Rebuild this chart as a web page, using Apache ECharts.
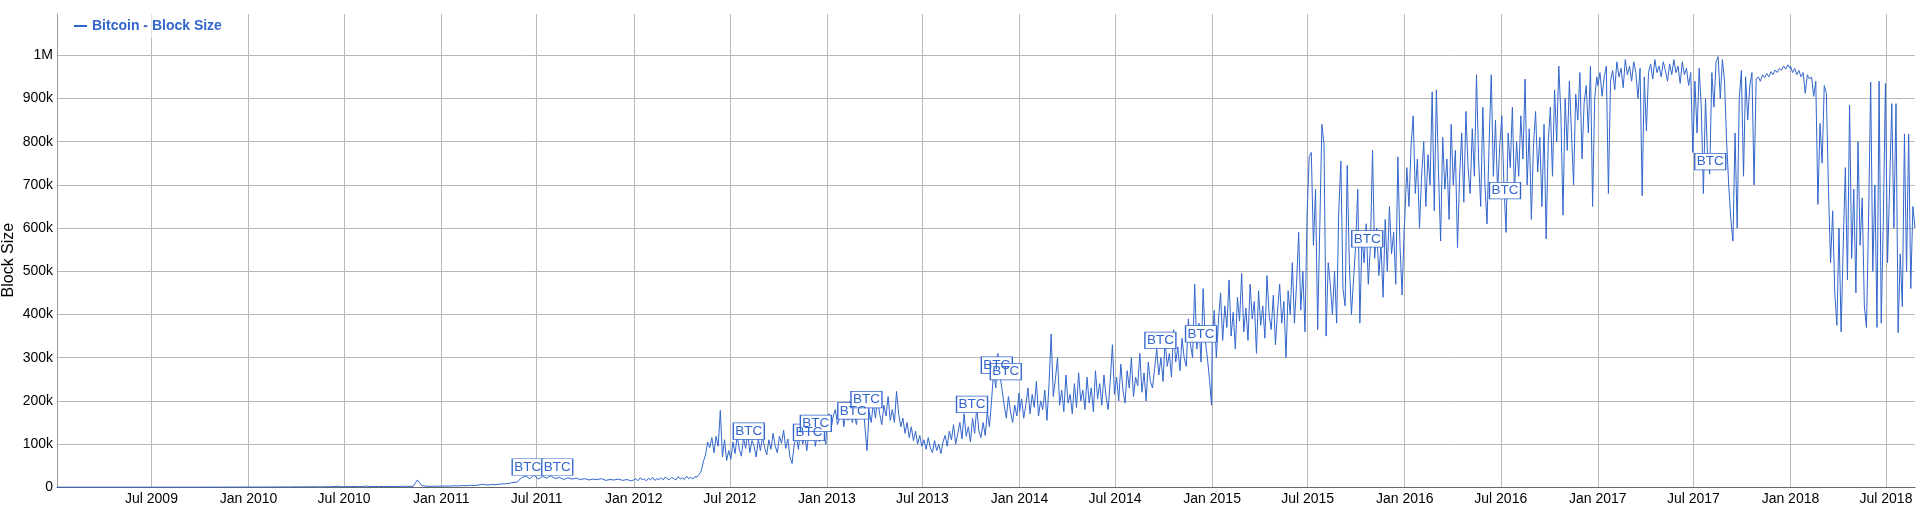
<!DOCTYPE html>
<html><head><meta charset="utf-8">
<script src="https://cdn.jsdelivr.net/npm/echarts@6/dist/echarts.min.js"></script>
<style>html,body{margin:0;padding:0;background:#fff}#c{width:1920px;height:509px}</style>
</head><body><div id="c"></div>
<script>
const seriesName = 'Bitcoin - Block Size';
const xTickLabels = ['Jul 2009','Jan 2010','Jul 2010','Jan 2011','Jul 2011','Jan 2012','Jul 2012','Jan 2013','Jul 2013','Jan 2014','Jul 2014','Jan 2015','Jul 2015','Jan 2016','Jul 2016','Jan 2017','Jul 2017','Jan 2018','Jul 2018'];
const xStart = '2009-01-03';
const xEnd = '2018-08-25';
const yMax = 1095.6; // thousands of bytes
const yStep = 100;

// Block size (thousands of bytes)
const size2009 = [0.3,0.2,0.3,0.2,0.2,0.3,0.2,0.3,0.2,0.2,0.3,0.2,0.2,0.3,0.2,0.3,0.2,0.2,0.3,0.2,0.2,0.3,0.2,0.3,0.3,0.2,0.3,0.2,0.3,0.3,0.2,0.3,0.2,0.3,0.3,0.4,0.3,0.4,0.3,0.5,0.4,0.5,0.4,0.6,0.5,0.6];
const size2010 = [0.5,0.6,0.5,0.7,0.6,0.8,0.6,0.9,0.7,1.0,0.8,1.1,0.9,1.2,1.0,1.3,1.1,1.0,1.4,1.2,1.5,2.5,1.3,1.6,1.4,1.8,1.5,1.7,2.8,1.6,1.9,1.7,2.0,1.8,2.1,1.9,2.2,2.0,2.3,2.1,17.0,4.5,2.4,2.2,2.5,2.3];
const size2011 = [2.5,3,2.8,3.5,3.2,4,3.6,4.5,4.2,5.5,7,5,6.5,6,7.5,8,9,11,12,22,26,20,28,19,25,21,27,20,23,18,22,19,21,18,20,17,19,18,20,16,18,17,19,16,18,15];
const size2012 = [17,20,15,22,18,19,15,21,17,23,16,20,18,22,17,24,19,18,23,20,17,25,19,22,18,26,20,23,19,25,24,30,38,60,75,105,92,115,80,118,95,178,70,110,62,85,65,105,78,120,88,72,115,90,126,80,108,95,70,112,85,118,92,75,110,88,125,96,80,118,102,132,90,112,70,55,98,120,88,135,100,118,85,130,110,140,95,125,105,148,120,100];
const size2013 = [150,170,135,165,180,145,160,190,140,175,155,200,150,170,145,185,165,210,140,85,175,150,195,160,205,170,145,190,165,210,155,180,150,222,170,140,160,125,150,115,140,108,130,100,120,95,110,88,115,92,80,108,85,100,78,105,120,95,130,110,145,100,125,150,112,170,118,140,105,160,125,185,130,115,150,120,175,140,200,270,230,310,260,225,190,160,210,175,150,190,165,218];
const size2014 = [175,205,160,190,230,170,215,185,245,165,200,180,225,155,240,355,210,250,300,190,225,175,260,195,215,170,240,185,265,200,225,180,255,195,230,175,270,205,240,190,260,210,180,245,330,215,255,200,285,225,195,270,230,300,210,255,235,310,220,265,200,290,245,230,275,320,260,300,245,340,280,310,255,365,290,325,270,345,300,280,390,330,300,470,320,380,290,460,340,300,250,190];
const size2015 = [330,410,300,385,450,340,420,370,480,350,405,320,440,385,495,360,415,340,470,390,430,310,455,375,420,345,490,400,365,445,330,410,470,380,430,300,455,400,520,380,470,590,410,500,360,635,765,775,560,690,365,600,840,795,350,520,470,400,500,380,640,755,460,420,745,520,400,480,560,690,380,580,520,610,470,560,780,530,600,490,560,440,620,500,650,540,590,470,765,560,445,600];
const size2016 = [620,740,650,790,860,680,760,600,720,800,650,770,700,915,640,920,730,570,810,690,760,620,840,700,780,555,720,820,660,870,740,680,830,720,955,760,650,880,700,610,800,955,720,850,680,790,860,700,590,820,740,880,680,800,720,860,760,945,700,830,620,790,870,730,810,650,840,575,800,880,720,920,800,975,860,630,900,780,940,820,700,910,850,960,760,890,930,820,975,650,900,950];
const size2017 = [930,960,905,950,975,680,940,965,920,985,950,970,925,990,955,975,940,985,960,900,970,675,950,825,960,980,945,990,960,975,950,985,965,940,980,955,990,960,975,935,985,955,970,930,960,775,940,820,970,880,680,900,760,725,960,880,985,997,900,990,940,800,700,620,570,820,600,900,965,720,950,850,930,960,700,945,950,940,955,948,958,950,962,955,966,960,970,965,975,968,978,970];
const size2018 = [975,960,970,955,965,950,960,912,955,945,950,905,940,655,842,750,930,912,690,520,640,450,375,600,360,560,740,480,885,530,690,450,800,560,670,420,370,620,938,500,700,370,940,380,620,935,520,700,888,600,888,358,540,418,818,500,818,460,650,600];

// segment start dates and sampling step (days)
const segStarts = ['2009-01-03','2010-01-01','2011-01-01','2012-01-01','2013-01-01','2014-01-01','2015-01-01','2016-01-01','2017-01-01','2018-01-01'];
const segSteps = [8,8,8,4,4,4,4,4,4,4];
const segValues = [size2009,size2010,size2011,size2012,size2013,size2014,size2015,size2016,size2017,size2018];

// "BTC" annotation flags: date and level (thousands)
const annotDates = ['2011-06-14','2011-08-09','2012-08-06','2012-11-28','2012-12-11','2013-02-20','2013-03-17','2013-10-03','2013-11-19','2013-12-06','2014-09-25','2014-12-11','2015-10-22','2016-07-09','2017-08-02'];
const annotValues = [47,47,130,127,148,177,203,192,283,268,340,355,575,687,754];
const annotText = 'BTC';

const DAY = 86400000;
const ts = s => Date.parse(s + 'T00:00:00Z');
const MONTHS = ['Jan','Feb','Mar','Apr','May','Jun','Jul','Aug','Sep','Oct','Nov','Dec'];
const data = [];
segValues.forEach((arr, k) => {
  const t0 = ts(segStarts[k]);
  arr.forEach((v, i) => data.push([t0 + i * segSteps[k] * DAY, v]));
});
const tickVals = xTickLabels.map(l => {
  const [m, y] = l.split(' ');
  return Date.UTC(+y, MONTHS.indexOf(m), 1);
});
const font = "'Liberation Sans', Arial, Helvetica, sans-serif";

const chart = echarts.init(document.getElementById('c'), null, {renderer: 'canvas'});
chart.setOption({
  animation: false,
  backgroundColor: '#fff',
  textStyle: {fontFamily: font},
  grid: {left: 57, right: 5, top: 14, bottom: 21.7, outerBoundsMode: 'none', containLabel: false},
  legend: {
    show: true, left: 69, top: 14, padding: [5, 8, 5, 5],
    backgroundColor: 'rgba(255,255,255,0.6)',
    icon: 'rect', itemWidth: 13, itemHeight: 2,
    textStyle: {fontFamily: font, fontWeight: 'bold', fontSize: 14, color: '#3366cc'},
    data: [seriesName]
  },
  xAxis: {
    type: 'value', min: ts(xStart), max: ts(xEnd), scale: true,
    axisLine: {show: true, onZero: false, lineStyle: {color: '#666', width: 1}},
    axisTick: {show: false, customValues: tickVals},
    axisLabel: {
      customValues: tickVals, margin: 5, color: '#000', fontSize: 14, fontFamily: font,
      formatter: v => { const d = new Date(v); return MONTHS[d.getUTCMonth()] + ' ' + d.getUTCFullYear(); }
    },
    splitLine: {show: true, lineStyle: {color: '#b8b8b8', width: 1}}
  },
  yAxis: {
    type: 'value', min: 0, max: yMax, interval: yStep,
    name: 'Block Size', nameLocation: 'middle', nameGap: 40, nameMoveOverlap: false,
    nameTextStyle: {fontSize: 16, color: '#000', fontFamily: font, padding: [0, 19, 0, 0]},
    axisLine: {show: true, lineStyle: {color: '#999', width: 1}},
    axisTick: {show: false},
    axisLabel: {
      margin: 4, color: '#000', fontSize: 14, fontFamily: font, showMaxLabel: false,
      formatter: v => v === 0 ? '0' : (v >= 1000 ? (v / 1000) + 'M' : v + 'k')
    },
    splitLine: {show: true, showMaxLine: false, lineStyle: {color: '#b8b8b8', width: 1}}
  },
  series: [{
    name: seriesName, type: 'line', data: data,
    showSymbol: false, symbol: 'none',
    lineStyle: {color: '#3366cc', width: 1},
    itemStyle: {color: '#3366cc'},
    markPoint: {
      symbol: 'rect', symbolSize: [31, 16.5],
      itemStyle: {color: '#fff', borderColor: '#3366cc', borderWidth: 1},
      label: {show: true, position: 'inside', formatter: annotText, color: '#3366cc', fontSize: 13.5, fontFamily: font},
      data: annotDates.map((d, i) => ({coord: [ts(d), annotValues[i]]}))
    }
  }]
});
</script></body></html>
